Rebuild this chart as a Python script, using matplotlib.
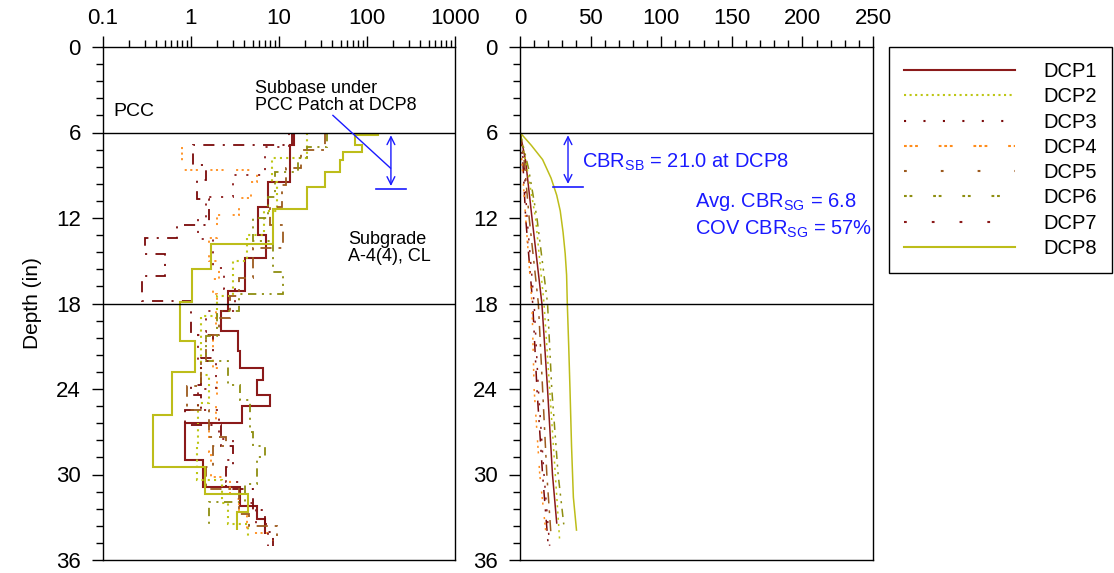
import numpy as np
import matplotlib.pyplot as plt
from matplotlib.lines import Line2D
from matplotlib.ticker import MultipleLocator, LogLocator, NullFormatter

plt.rcParams["font.family"] = ["Liberation Sans", "DejaVu Sans"]
plt.rcParams["mathtext.fontset"] = "custom"
plt.rcParams["mathtext.rm"] = "Liberation Sans"
plt.rcParams["mathtext.it"] = "Liberation Sans"
plt.rcParams["lines.scale_dashes"] = False

names = ["DCP1", "DCP2", "DCP3", "DCP4", "DCP5", "DCP6", "DCP7", "DCP8"]

# left panel: layer depth bounds (in) and CBR of each layer
depth_1 = [6.0, 6.9, 9.5, 11.2, 13.2, 14.8, 17.1, 18.5, 19.9, 21.3, 22.5, 23.4, 24.4, 25.2, 26.4, 29.0, 30.9, 32.2, 33.1, 34.2]
cbr_1 = [14.8, 13.3, 7.5, 5.8, 7.1, 4.1, 2.6, 2.2, 3.4, 3.6, 6.6, 5.6, 7.9, 3.8, 0.85, 1.37, 3.6, 5.6, 6.9]
depth_2 = [6.0, 7.8, 9.5, 11.5, 13.2, 15.0, 17.5, 18.9, 23.0, 25.0, 28.0, 30.4, 32.0, 33.5, 34.5]
cbr_2 = [21, 8.3, 9.5, 6.8, 4.3, 3.0, 2.0, 1.3, 1.6, 1.2, 1.17, 2.25, 2.6, 4.4]
depth_3 = [6.0, 6.9, 8.3, 9.3, 10.7, 12.5, 13.4, 14.5, 16.1, 17.8, 18.9, 20.2, 21.8, 23.7, 24.4, 25.5, 26.5, 28.0, 29.5, 31.0, 32.5, 34.0, 35.0]
cbr_3 = [14, 1.05, 1.5, 1.17, 1.6, 0.7, 0.3, 0.5, 0.28, 1.0, 1.0, 1.8, 1.3, 1.0, 1.3, 0.85, 2.2, 3.0, 2.5, 5.0, 7.0, 8.5]
depth_4 = [7.0, 8.6, 9.5, 10.6, 11.8, 13.4, 15.0, 16.3, 17.3, 18.5, 19.9, 22.5, 25.0, 26.2, 28.4, 30.2, 31.7, 32.9, 34.1, 34.7]
cbr_4 = [0.8, 5.6, 4.8, 3.5, 2.0, 1.6, 2.1, 1.8, 2.0, 1.9, 1.8, 2.0, 1.9, 1.6, 1.7, 2.8, 3.5, 4.3, 8.6]
depth_5 = [6.0, 7.2, 8.5, 9.7, 11.2, 12.5, 14.1, 16.2, 17.5, 19.0, 20.2, 22.0, 23.8, 25.5, 27.4, 28.0, 29.5, 31.0, 32.8, 33.6, 34.3]
cbr_5 = [33, 18, 12, 10.8, 8.0, 11.0, 5.0, 3.5, 2.8, 2.1, 1.5, 1.3, 0.9, 1.6, 2.5, 1.8, 1.5, 3.5, 4.6, 9.5]
depth_6 = [6.0, 7.0, 7.8, 8.8, 10.5, 12.0, 13.6, 15.8, 17.3, 18.5, 20.3, 22.0, 23.7, 24.8, 27.0, 28.0, 28.8, 30.7, 31.9, 33.5]
cbr_6 = [35, 21, 16.5, 9.0, 7.5, 5.0, 8.5, 11.0, 3.5, 2.0, 1.5, 2.6, 3.6, 4.7, 5.1, 6.9, 5.6, 4.1, 1.6]
depth_7 = [6.0, 7.0, 9.0, 10.5, 12.0, 13.5, 15.5, 17.0, 18.5, 20.0, 22.0, 24.0, 25.5, 27.5, 29.0, 30.5, 32.0, 33.5, 35.0]
cbr_7 = [13, 6.9, 3.0, 1.5, 1.2, 1.8, 2.4, 3.2, 1.5, 1.2, 1.9, 1.2, 2.1, 3.0, 2.5, 3.6, 5.5, 7.5]
depth_8 = [6.0, 6.2, 6.9, 7.4, 7.9, 8.8, 9.8, 11.4, 13.8, 15.6, 17.9, 20.6, 22.8, 25.8, 29.5, 31.4, 32.6, 33.9]
cbr_8 = [133, 73, 88, 53, 49, 33, 21, 8.5, 1.7, 1.03, 0.75, 1.1, 0.61, 0.37, 1.44, 4.4, 3.3]

# right panel: cumulative blows vs depth
blows_1 = [0, 4, 8.5, 15.5, 19.5, 23, 26]
bdepth_1 = [6, 8, 12, 18, 24, 30, 33.4]
blows_2 = [0, 5, 11, 17, 21, 25, 28]
bdepth_2 = [6, 8.5, 12, 18, 24, 30, 34.5]
blows_3 = [0, 2, 4, 9, 12, 16, 20]
bdepth_3 = [6, 8, 12, 18, 24, 30, 35]
blows_4 = [0, 2, 4, 8.5, 10, 14, 19]
bdepth_4 = [6, 9, 12, 18, 24, 30, 34.7]
blows_5 = [0, 3, 6.5, 13, 16, 19, 22]
bdepth_5 = [6, 8, 12, 18, 24, 30, 34.3]
blows_6 = [0, 6, 12, 19.5, 22.5, 27, 31]
bdepth_6 = [6, 8.5, 12, 18, 24, 30, 33.5]
blows_7 = [0, 3, 5, 10, 13, 17, 21]
bdepth_7 = [6, 8.5, 12, 18, 24, 30, 35]
blows_8 = [0, 8, 16, 22, 26, 28.5, 30.5, 32, 33, 33.5, 34.5, 35.4, 36.5, 37.8, 40]
bdepth_8 = [6, 6.9, 7.9, 9.2, 10.4, 11.5, 13, 14.5, 16, 18, 21, 24, 28, 31.6, 33.9]

depths = [depth_1, depth_2, depth_3, depth_4, depth_5, depth_6, depth_7, depth_8]
cbrs = [cbr_1, cbr_2, cbr_3, cbr_4, cbr_5, cbr_6, cbr_7, cbr_8]
blows = [blows_1, blows_2, blows_3, blows_4, blows_5, blows_6, blows_7, blows_8]
bdepths = [bdepth_1, bdepth_2, bdepth_3, bdepth_4, bdepth_5, bdepth_6, bdepth_7, bdepth_8]

colors = ["#8B1A1A", "#BDC615", "#7A0A0A", "#FF8C1A", "#9C5A1E", "#8E8E10", "#8B1A1A", "#BDBD1A"]
plot_dashes = [None, (1.5, 3), (8, 6, 1.5, 6), (1.5, 2.5, 1.5, 2.5, 1.5, 9), (8, 5, 2, 5),
               (6, 4, 1.5, 4, 1.5, 4), (1.5, 7), None]
legend_dashes = [None, (1.5, 2.5), (1.5, 12.5), (2, 2, 2, 2, 2, 15), (2, 24.5), (2, 2, 2, 15), (2, 18), None]
left_lw = [1.5, 1.5, 1.3, 1.3, 1.3, 1.3, 1.3, 1.5]

fig = plt.figure(figsize=(11.14, 5.73), dpi=100)
W, H = 1114, 573
ax1 = fig.add_axes([103 / W, 1 - 560 / H, 352 / W, 513 / H])
ax2 = fig.add_axes([520 / W, 1 - 560 / H, 353 / W, 513 / H])

for i in range(8):
    st = ax1.stairs(cbrs[i], depths[i], orientation="horizontal", baseline=None,
                    color=colors[i], lw=left_lw[i])
    if plot_dashes[i] is not None:
        st.set_linestyle((0, plot_dashes[i]))
    ln, = ax2.plot(blows[i], bdepths[i], color=colors[i], lw=1.1)
    if plot_dashes[i] is not None:
        ln.set_dashes(plot_dashes[i])

for ax in (ax1, ax2):
    ax.set_ylim(36, 0)
    ax.yaxis.set_major_locator(MultipleLocator(6))
    ax.yaxis.set_minor_locator(MultipleLocator(1.2))
    ax.xaxis.tick_top()
    ax.tick_params(which="major", direction="out", length=8, width=1, labelsize=16, pad=8)
    ax.tick_params(which="minor", direction="out", length=5, width=1)
    ax.tick_params(axis="x", which="major", pad=5)
    ax.axhline(6, color="black", lw=1)
    ax.axhline(18, color="black", lw=1)
    for s in ax.spines.values():
        s.set_linewidth(1)

ax1.set_xscale("log")
ax1.set_xlim(0.1, 1000)
ax1.set_xticks([0.1, 1, 10, 100, 1000])
ax1.set_xticklabels(["0.1", "1", "10", "100", "1000"])
ax1.xaxis.set_minor_locator(LogLocator(base=10, subs=np.arange(2, 10)))
ax1.xaxis.set_minor_formatter(NullFormatter())
ax1.set_ylabel("Depth (in)", fontsize=15, labelpad=10)

ax2.set_xlim(0, 250)
ax2.xaxis.set_major_locator(MultipleLocator(50))
ax2.xaxis.set_minor_locator(MultipleLocator(10))

blue = "#1a1aff"
# left annotations
ax1.text(0.13, 4.5, "PCC", fontsize=14, va="center")
ax1.text(5.3, 3.5, "Subbase under\nPCC Patch at DCP8", fontsize=13, va="center",
         ha="left", multialignment="left", linespacing=1.05)
ax1.text(61, 14.1, "Subgrade\nA-4(4), CL", fontsize=13, va="center",
         ha="left", multialignment="left", linespacing=1.05)
ax1.annotate("", xy=(187, 6), xytext=(187, 9.95),
             arrowprops=dict(arrowstyle="<->", color=blue, lw=1, mutation_scale=14))
ax1.plot([126, 277], [9.95, 9.95], color=blue, lw=1.2)
ax1.plot([41, 185], [4.8, 8.5], color=blue, lw=1)

# right annotations
ax2.annotate("", xy=(34, 6), xytext=(34, 9.8),
             arrowprops=dict(arrowstyle="<->", color=blue, lw=1, mutation_scale=14))
ax2.plot([23.4, 44.6], [9.8, 9.8], color=blue, lw=1.2)
ax2.text(44, 8.1, r"CBR$_{\mathrm{SB}}$ = 21.0 at DCP8", color=blue, fontsize=14.5, va="center")
ax2.text(124, 10.9, r"Avg. CBR$_{\mathrm{SG}}$ = 6.8", color=blue, fontsize=14.5, va="center")
ax2.text(124, 12.8, r"COV CBR$_{\mathrm{SG}}$ = 57%", color=blue, fontsize=14.5, va="center")

handles = []
for i in range(8):
    h = Line2D([], [], color=colors[i], lw=1.5)
    if legend_dashes[i] is not None:
        h.set_dashes(legend_dashes[i])
    handles.append(h)
fig.legend(handles, names, loc="upper left", bbox_to_anchor=(889 / W, 1 - 47 / H),
           bbox_transform=fig.transFigure, borderaxespad=0, fancybox=False,
           edgecolor="black", framealpha=1, fontsize=14.5, handlelength=5.5,
           handletextpad=1.4, borderpad=0.75, labelspacing=0.31)

fig.savefig("out.png", dpi=100)
